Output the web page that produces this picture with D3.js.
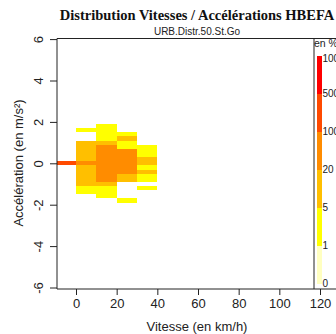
<!DOCTYPE html>
<html><head><meta charset="utf-8">
<script src="https://cdn.jsdelivr.net/npm/d3@7"></script>
<style>html,body{margin:0;padding:0;background:#fff;overflow:hidden}</style>
</head><body>
<script>
// ---- data ----
const title = "Distribution Vitesses / Accélérations HBEFA";
const subtitle = "URB.Distr.50.St.Go";
const xLabel = "Vitesse (en km/h)";
const yLabel = "Accélération (en m/s²)";
const xTicks = [0, 20, 40, 60, 80, 100, 120];
const yTicks = [-6, -4, -2, 0, 2, 4, 6];
const speedStarts = [-10, 0, 10, 20, 30];   // speed bins, 10 km/h wide
const speedWidth = 10;
const accCenters = [1.8,1.6,1.4,1.2,1.0,0.8,0.6,0.4,0.2,0,-0.2,-0.4,-0.6,-0.8,-1.0,-1.2,-1.4,-1.6,-1.8];
const accWidth = 0.2;
// per-mille shares, one array per speed bin, rows follow accCenters
const binStop = [0,0,0,0,0,0,0,0,0,250,0,0,0,0,0,0,0,0,0];
const bin0_10 = [0,2,0,0,10,10,10,10,10,40,10,10,10,10,10,2,2,0,0];
const bin10_20 = [2,2,2,2,8,40,40,40,40,40,40,40,40,40,8,2,2,2,0];
const bin20_30 = [0,0,2,8,2,2,30,30,30,30,30,30,8,8,0,0,0,0,2];
const bin30_40 = [0,0,0,0,0,2,2,2,8,8,2,8,2,2,0,2,0,0,0];
const legendBreaks = [0, 1, 5, 20, 100, 500, 1000];
const legendColors = ["#FFFFC0", "#FFFF00", "#FFBF00", "#FF8C00", "#FF4A00", "#FF0000"];
const legendTitle = "en %";

// ---- drawing ----
(function () {
const W = 336, H = 334;
const svg = d3.select("body").append("svg").attr("width", W).attr("height", H);
const x = d3.scaleLinear().domain([0, 120]).range([76, 320]);
const y = d3.scaleLinear().domain([-6, 6]).range([287.5, 39.1]);
const pL = 57, pT = 38.5, pB = 289, pR = 342;
const color = d3.scaleThreshold().domain(legendBreaks.slice(1, -1)).range(legendColors);
const fmt = d => String(d);

svg.append("defs").append("clipPath").attr("id", "pc")
  .append("rect").attr("x", pL).attr("y", pT).attr("width", 314 - pL).attr("height", pB - pT);

const bins = [binStop, bin0_10, bin10_20, bin20_30, bin30_40];
const cells = [];
bins.forEach((arr, i) => arr.forEach((v, j) => {
  if (v > 0) cells.push({s: speedStarts[i], a: accCenters[j], v});
}));
svg.append("g").attr("clip-path", "url(#pc)").selectAll("rect").data(cells).join("rect")
  .attr("x", d => x(d.s))
  .attr("width", d => x(d.s + speedWidth) - x(d.s))
  .attr("y", d => y(d.a + accWidth / 2))
  .attr("height", d => y(d.a - accWidth / 2) - y(d.a + accWidth / 2))
  .attr("fill", d => color(d.v))
  .attr("shape-rendering", "crispEdges");

// box
svg.append("path").attr("d", `M${pR},${pT}H${pL}V${pB}H${pR}`)
  .attr("fill", "none").attr("stroke", "#222").attr("stroke-width", 1);
svg.append("line").attr("x1", 314).attr("x2", 314).attr("y1", pT).attr("y2", pB)
  .attr("stroke", "#222");

// x axis
const xa = svg.append("g").attr("transform", `translate(0,${pB})`)
  .call(d3.axisBottom(x).tickValues(xTicks).tickSize(6).tickPadding(4).tickFormat(fmt));
xa.select(".domain").remove();
xa.selectAll("line").attr("stroke", "#222");
xa.selectAll("text").attr("font-family", "Liberation Sans, Arial, sans-serif").attr("font-size", 13).attr("fill", "#222");

// y axis
const ya = svg.append("g").attr("transform", `translate(${pL},0)`)
  .call(d3.axisLeft(y).tickValues(yTicks).tickSize(7).tickFormat(fmt));
ya.select(".domain").remove();
ya.selectAll("line").attr("stroke", "#222");
ya.selectAll("text")
  .attr("font-family", "Liberation Sans, Arial, sans-serif").attr("font-size", 13).attr("fill", "#222")
  .attr("x", null)
  .attr("text-anchor", "middle")
  .attr("transform", "translate(-19,0) rotate(-90)")
  .attr("dy", "0.35em");

// labels
svg.append("text").attr("x", 197).attr("y", 20).attr("text-anchor", "middle")
  .attr("font-family", "Liberation Serif, Times New Roman, serif").attr("font-weight", "bold")
  .attr("font-size", 14.5).attr("fill", "#111").text(title);
svg.append("text").attr("x", 197).attr("y", 35).attr("text-anchor", "middle")
  .attr("font-family", "Liberation Sans, Arial, sans-serif").attr("font-size", 10)
  .attr("fill", "#222").text(subtitle);
svg.append("text").attr("x", 197).attr("y", 331).attr("text-anchor", "middle")
  .attr("font-family", "Liberation Sans, Arial, sans-serif").attr("font-size", 13)
  .attr("fill", "#222").text(xLabel);
svg.append("text").attr("transform", "translate(23,163) rotate(-90)").attr("text-anchor", "middle")
  .attr("font-family", "Liberation Sans, Arial, sans-serif").attr("font-size", 13)
  .attr("fill", "#222").text(yLabel);

// legend
const lg = d3.scalePoint().domain(legendBreaks).range([283.5, 55.5]);
const lgG = svg.append("g");
legendColors.forEach((c, i) => {
  lgG.append("rect").attr("x", 316.5).attr("width", 5.5)
    .attr("y", lg(legendBreaks[i + 1])).attr("height", lg(legendBreaks[i]) - lg(legendBreaks[i + 1]))
    .attr("fill", c).attr("shape-rendering", "crispEdges");
});
lgG.selectAll("text.lab").data(legendBreaks).join("text").attr("class", "lab")
  .attr("x", 322.5).attr("y", (d, i) => i === legendBreaks.length - 1 ? lg(d) + 3 : lg(d))
  .attr("dy", "0.35em")
  .attr("font-family", "Liberation Sans, Arial, sans-serif").attr("font-size", 10)
  .attr("fill", "#222").text(d => d);
svg.append("text").attr("x", 314).attr("y", 46.5)
  .attr("font-family", "Liberation Sans, Arial, sans-serif").attr("font-size", 10.5)
  .attr("fill", "#222").text(legendTitle);
})();
</script>
</body></html>
